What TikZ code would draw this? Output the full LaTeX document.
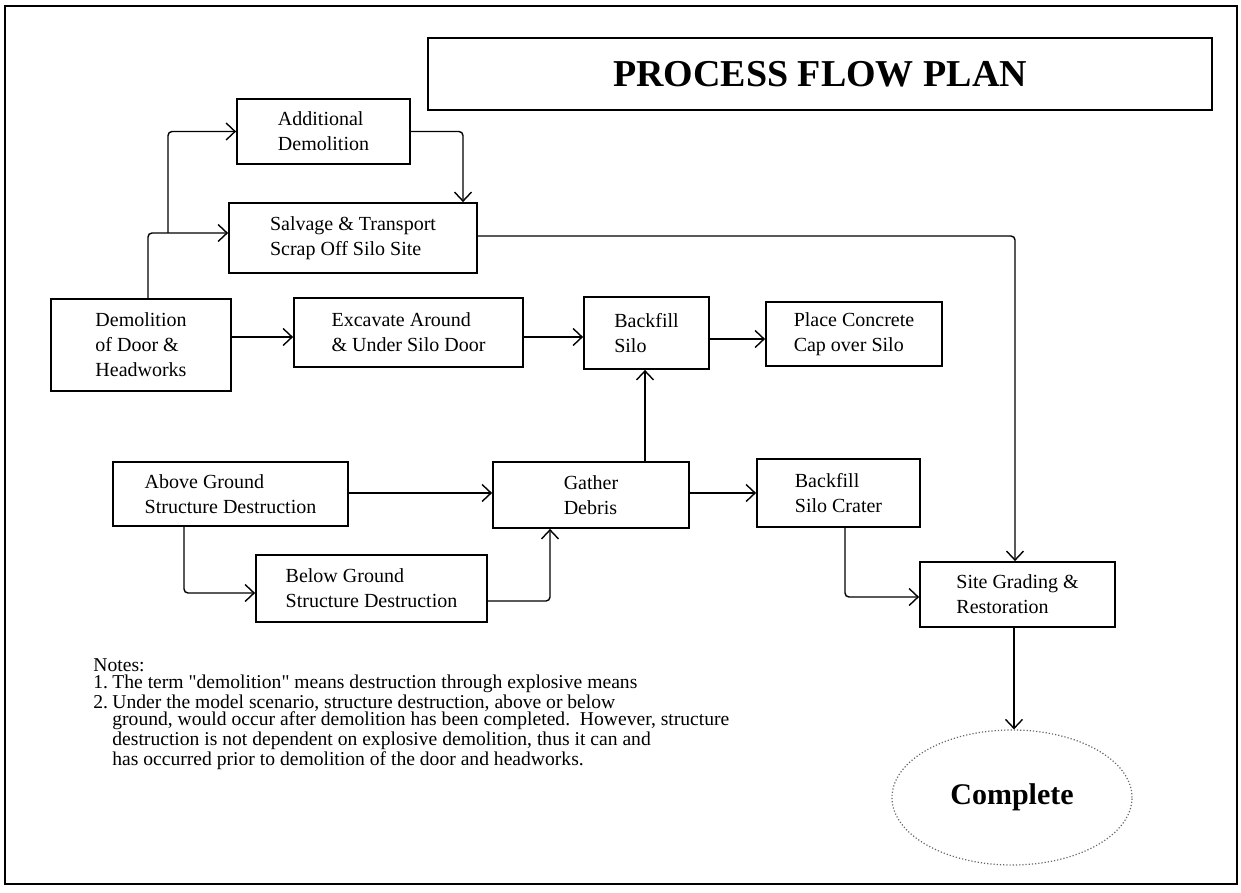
\documentclass[tikz,border=0pt]{standalone}
\usepackage{fontspec}
\setmainfont{Liberation Serif}
\usetikzlibrary{arrows.meta,shapes.geometric}
\begin{document}
\begin{tikzpicture}[x=0.5pt,y=-0.5pt,
  box/.style={draw,line width=0.9pt,inner sep=0pt,align=left,font=\fontsize{10}{12.5}\selectfont},
  titlebox/.style={draw,line width=0.9pt,inner sep=0pt,font=\fontsize{19}{22}\selectfont\bfseries},
  endnode/.style={ellipse,draw=black!60,densely dotted,line width=0.6pt,inner sep=0pt,font=\fontsize{15}{18}\selectfont\bfseries},
  conn/.style={line width=0.7pt,rounded corners=2pt,-{Straight Barb[length=4.5pt,width=8.5pt]}},
  frame/.style={line width=1.2pt},
  notes/.style={inner sep=0pt,align=left,font=\fontsize{9.8}{8.7}\selectfont}]
\useasboundingbox (0,0) rectangle (1241,893);
\draw[frame] (5,6) rectangle (1237,884);

\node[titlebox,minimum width=392pt,minimum height=36pt] (title) at (820,74) {PROCESS FLOW PLAN};

\node[box,minimum width=86.5pt,minimum height=32.5pt] (additional) at (323.5,131.5) {Additional\\Demolition};
\node[box,minimum width=124pt,minimum height=35pt] (salvage) at (353,238) {Salvage \& Transport\\Scrap Off Silo Site};
\node[box,minimum width=90pt,minimum height=46pt] (demo) at (141,345) {Demolition\\of Door \&\\Headworks};
\node[box,minimum width=114.5pt,minimum height=34.5pt] (excavate) at (408.5,332.5) {Excavate Around\\\& Under Silo Door};
\node[box,minimum width=62.5pt,minimum height=36pt] (backfill) at (646.5,333) {Backfill\\Silo};
\node[box,minimum width=88pt,minimum height=32pt] (place) at (854,334) {Place Concrete\\Cap over Silo};
\node[box,minimum width=117.5pt,minimum height=32pt] (above) at (230.5,494) {Above Ground\\Structure Destruction};
\node[box,minimum width=98pt,minimum height=33pt] (gather) at (591,495) {Gather\\Debris};
\node[box,minimum width=81.5pt,minimum height=34pt] (crater) at (838.5,493) {Backfill\\Silo Crater};
\node[box,minimum width=115.5pt,minimum height=33.5pt] (below) at (371.5,588.5) {Below Ground\\Structure Destruction};
\node[box,minimum width=97.5pt,minimum height=32.5pt] (site) at (1017.5,594.5) {Site Grading \&\\Restoration};
\node[endnode,minimum width=120pt,minimum height=67.5pt] (complete) at (1012,797.5) {Complete};

\coordinate (bA) at (148,233);
\coordinate (bB) at (168,233);
\coordinate (cA) at (463,0);
\coordinate (dA) at (1015,236);
\coordinate (eA) at (0,337);
\coordinate (eB) at (0,339);
\coordinate (fA) at (645,0);
\coordinate (gA) at (0,493);
\coordinate (hA) at (184,593);
\coordinate (iA) at (550,601);
\coordinate (jA) at (845,597);
\coordinate (kA) at (1014,0);

\draw[conn] (demo.north -| bA) |- (salvage.west |- bA);
\draw[conn] (bB) |- (additional.west);
\draw[conn] (additional.east) -| (salvage.north -| cA);
\draw[conn] (salvage.east |- dA) -| (site.north -| dA);
\draw[conn] (demo.east |- eA) -- (excavate.west |- eA);
\draw[conn] (excavate.east |- eA) -- (backfill.west |- eA);
\draw[conn] (backfill.east |- eB) -- (place.west |- eB);
\draw[conn] (gather.north -| fA) -- (backfill.south -| fA);
\draw[conn] (above.east |- gA) -- (gather.west |- gA);
\draw[conn] (above.south -| hA) |- (below.west |- hA);
\draw[conn] (below.east |- iA) -| (gather.south -| iA);
\draw[conn] (gather.east |- gA) -- (crater.west |- gA);
\draw[conn] (crater.south -| jA) |- (site.west |- jA);
\draw[conn] (site.south -| kA) -- (complete.north -| kA);

\node[notes,anchor=north west] (notestext) at (93,658) {Notes:\\
\makebox[9.5pt][l]{1.}The term \textquotedbl demolition\textquotedbl{} means destruction through explosive means\\
\makebox[9.5pt][l]{2.}Under the model scenario, structure destruction, above or below\\
\hspace*{9.5pt}ground, would occur after demolition has been completed.\ \ However, structure\\
\hspace*{9.5pt}destruction is not dependent on explosive demolition, thus it can and\\
\hspace*{9.5pt}has occurred prior to demolition of the door and headworks.};
\end{tikzpicture}
\end{document}
